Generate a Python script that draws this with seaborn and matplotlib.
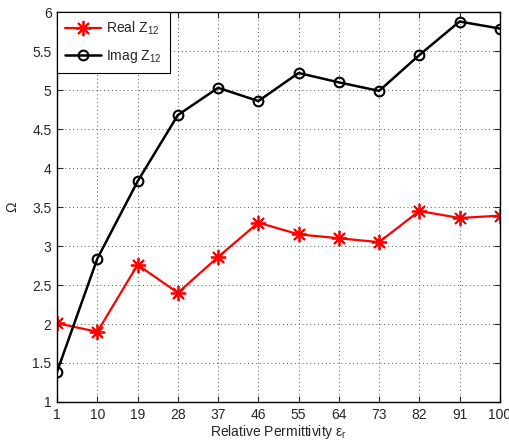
import matplotlib
matplotlib.use("Agg")
import matplotlib.pyplot as plt
import seaborn as sns
import pandas as pd

permittivity = [1, 10, 19, 28, 37, 46, 55, 64, 73, 82, 91, 100]
real_z12 = [2.01, 1.90, 2.76, 2.40, 2.86, 3.30, 3.15, 3.10, 3.05, 3.45, 3.36, 3.39]
imag_z12 = [1.39, 2.84, 3.83, 4.68, 5.03, 4.86, 5.22, 5.10, 4.99, 5.45, 5.88, 5.79]
y_ticks = [1, 1.5, 2, 2.5, 3, 3.5, 4, 4.5, 5, 5.5, 6]
y_tick_labels = ["1", "1.5", "2", "2.5", "3", "3.5", "4", "4.5", "5", "5.5", "6"]

sns.set_style("white")
plt.rcParams['font.family'] = ['Liberation Sans', 'DejaVu Sans']
plt.rcParams['mathtext.fontset'] = 'custom'
plt.rcParams['mathtext.rm'] = 'Liberation Sans'
plt.rcParams['mathtext.it'] = 'Liberation Sans'

df = pd.DataFrame({"x": permittivity, "real": real_z12, "imag": imag_z12})

fig = plt.figure(figsize=(5.1, 4.46), dpi=100)
ax = fig.add_axes([0.112, 0.0987, 0.868, 0.874])

sns.lineplot(data=df, x="x", y="real", ax=ax, color="red", linewidth=1.6,
             marker=(8, 2, 0), markersize=11, markeredgecolor="red", markeredgewidth=1.3,
             label=r"Real Z$_{12}$")
sns.lineplot(data=df, x="x", y="imag", ax=ax, color="black", linewidth=1.8,
             marker="o", markersize=7, markerfacecolor="none", markeredgecolor="black",
             markeredgewidth=1.5, label=r"Imag Z$_{12}$")

ax.set_xlim(1, 100)
ax.set_ylim(1, 6)
ax.set_xticks(permittivity)
ax.set_xticklabels([str(p) for p in permittivity])
ax.set_yticks(y_ticks)
ax.set_yticklabels(y_tick_labels)
ax.grid(True, linestyle=(0, (1, 3)), color="#555555", linewidth=0.7)
ax.tick_params(axis="both", direction="in", length=4, width=0.8, labelsize=10,
               top=True, right=True, bottom=True, left=True, pad=4)
for s in ax.spines.values():
    s.set_color("black")
    s.set_linewidth(1.0)
ax.set_xlabel(r"Relative Permittivity $\varepsilon_r$", fontsize=10, labelpad=1)
ax.set_ylabel("Ω", fontsize=10, labelpad=9)

leg = ax.legend(loc="upper left", borderaxespad=0, fancybox=False, framealpha=1,
                edgecolor="black", fontsize=10, handlelength=2.6, numpoints=1,
                borderpad=0.55, labelspacing=0.8, handletextpad=0.4)
leg.get_frame().set_linewidth(0.8)

fig.savefig("out.png", dpi=100)
